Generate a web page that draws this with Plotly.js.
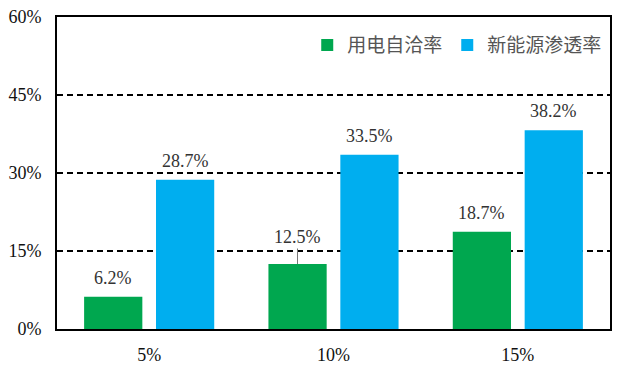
<!DOCTYPE html>
<html>
<head>
<meta charset="utf-8">
<script src="https://cdn.plot.ly/plotly-3.0.1.min.js"></script>
<style>html,body{margin:0;padding:0;background:#fff;}#chart{width:634px;height:369px;}</style>
</head>
<body>
<div id="chart"></div>
<script>
const categories = ['5%', '10%', '15%'];
const seriesNames = ['用电自洽率', '新能源渗透率'];
const selfSufficiency = [6.2, 12.5, 18.7];
const penetration = [28.7, 33.5, 38.2];
const yTickVals = [0, 15, 30, 45, 60];
const yTickText = ['0%', '15%', '30%', '45%', '60%'];

const serif = 'Liberation Serif, Times New Roman, serif';
const cjk = 'Noto Sans CJK SC';

const traces = [
  {type: 'bar', name: seriesNames[0], x: categories, y: selfSufficiency, marker: {color: '#00A74F'}, hoverinfo: 'none'},
  {type: 'bar', name: seriesNames[1], x: categories, y: penetration, marker: {color: '#00AEEF'}, hoverinfo: 'none'}
];

const labelFont = {family: serif, size: 18, color: '#333'};
const annotations = [];
categories.forEach((c, i) => {
  if (i === 1) {
    annotations.push({x: c, y: selfSufficiency[i], xref: 'x', yref: 'y', text: selfSufficiency[i].toFixed(1) + '%',
      xshift: -36, showarrow: true, arrowhead: 0, arrowwidth: 1, arrowcolor: '#777', ax: 0, ay: -27,
      standoff: 0, font: labelFont});
  } else {
    annotations.push({x: c, y: selfSufficiency[i], xref: 'x', yref: 'y', text: selfSufficiency[i].toFixed(1) + '%',
      xshift: -36, yshift: 7, showarrow: false, yanchor: 'bottom', font: labelFont});
  }
  annotations.push({x: c, y: penetration[i], xref: 'x', yref: 'y', text: penetration[i].toFixed(1) + '%',
    xshift: 36, yshift: 7, showarrow: false, yanchor: 'bottom', font: labelFont});
});

const layout = {
  width: 634, height: 369,
  font: {family: serif},
  margin: {l: 57, r: 24, t: 17, b: 40},
  paper_bgcolor: '#fff', plot_bgcolor: '#fff',
  barmode: 'group', bargap: 0.22, bargroupgap: 0.19,
  showlegend: true,
  legend: {orientation: 'h', x: 0.995, xanchor: 'right', y: 0.91, yanchor: 'middle',
    font: {family: cjk, size: 19, color: '#555'}, bgcolor: 'rgba(0,0,0,0)', itemwidth: 30, tracegroupgap: 0},
  xaxis: {type: 'category', showline: true, linecolor: '#000', linewidth: 2, mirror: true,
    ticks: '', ticklabelstandoff: 8, tickfont: {family: serif, size: 18, color: '#111'}, showgrid: false, fixedrange: true},
  yaxis: {range: [0, 60], tickvals: yTickVals, ticktext: yTickText, showline: true, linecolor: '#000', linewidth: 2, mirror: true,
    ticks: '', ticklabelstandoff: 10, tickfont: {family: serif, size: 18, color: '#111'},
    showgrid: true, gridcolor: '#000', gridwidth: 1.5, griddash: '6px,4px', zeroline: false, fixedrange: true},
  annotations: annotations
};

Plotly.newPlot('chart', traces, layout, {displayModeBar: false, staticPlot: true});
</script>
</body>
</html>
